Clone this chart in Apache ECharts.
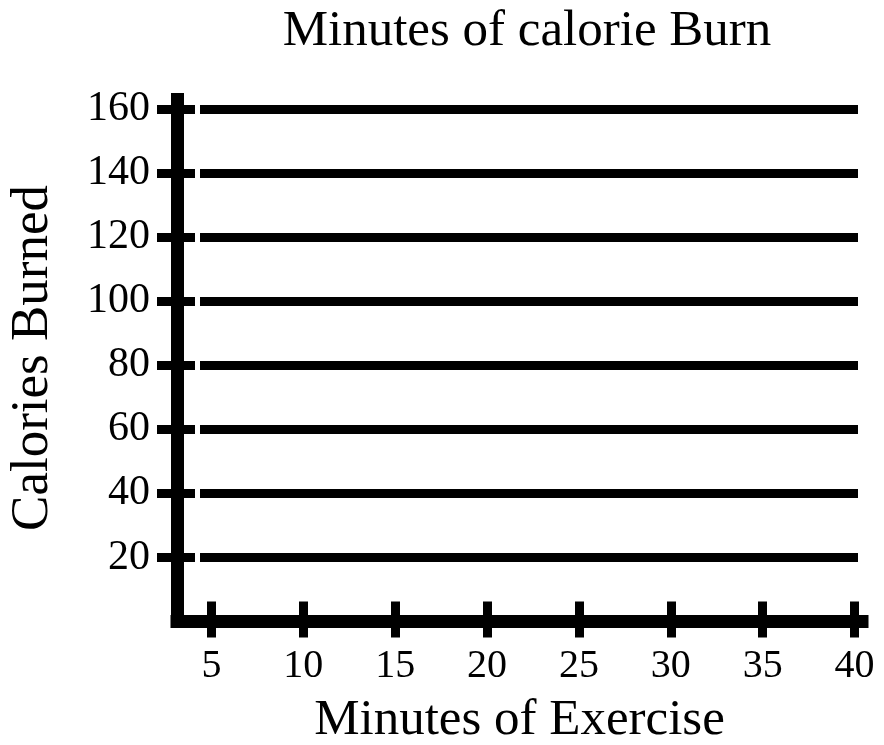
<!DOCTYPE html>
<html>
<head>
<meta charset="utf-8">
<script src="https://cdn.jsdelivr.net/npm/echarts@6/dist/echarts.min.js"></script>
<style>
html,body{margin:0;padding:0;background:#fff;}
#chart{width:884px;height:745px;}
</style>
</head>
<body>
<div id="chart"></div>
<script>
var titleText = 'Minutes of calorie Burn';
var xName = 'Minutes of Exercise';
var yName = 'Calories Burned';
var xTicks = [5, 10, 15, 20, 25, 30, 35, 40];
var yTicks = [20, 40, 60, 80, 100, 120, 140, 160];
var gridMin = 20, gridMax = 160, gridStep = 20;

var FONT = 'Liberation Serif';
var chart = echarts.init(document.getElementById('chart'), null, {renderer: 'canvas'});

var option = {
  backgroundColor: '#fff',
  animation: false,
  title: {
    text: titleText,
    left: 522,
    top: 1,
    textAlign: 'center',
    textStyle: {fontFamily: FONT, fontSize: 51, fontWeight: 'normal', color: '#000'}
  },
  grid: [
    {left: 177, right: 22, top: 93, bottom: 122, containLabel: false, outerBoundsMode: 'none'},
    {left: 200, right: 26, top: 109, bottom: 187.5, containLabel: false, outerBoundsMode: 'none'}
  ],
  xAxis: [
    {
      type: 'value', gridIndex: 0, min: 3.122, max: 40.408,
      position: 'bottom',
      name: xName, nameLocation: 'middle', nameGap: 72,
      nameTextStyle: {fontFamily: FONT, fontSize: 51, color: '#000'},
      axisLine: {show: true, lineStyle: {color: '#000', width: 13, cap: 'square'}},
      axisTick: {show: true, customValues: xTicks, length: 16, inside: false, lineStyle: {color: '#000', width: 9}},
      axisLabel: {show: true, customValues: xTicks, margin: 23, fontFamily: FONT, fontSize: 40, color: '#000'},
      splitLine: {show: false}
    },
    {
      type: 'value', gridIndex: 0, min: 3.122, max: 40.408,
      position: 'bottom',
      axisLine: {show: false},
      axisTick: {show: true, customValues: xTicks, length: 20, inside: true, lineStyle: {color: '#000', width: 9}},
      axisLabel: {show: false},
      splitLine: {show: false}
    },
    {
      type: 'value', gridIndex: 1, min: 0, max: 1, show: false
    }
  ],
  yAxis: [
    {
      type: 'value', gridIndex: 0, min: -0.446, max: 164.99,
      position: 'left',
      name: yName, nameLocation: 'middle', nameGap: 117, nameRotate: 90,
      nameTextStyle: {fontFamily: FONT, fontSize: 53, color: '#000'},
      axisLine: {show: true, lineStyle: {color: '#000', width: 13, cap: 'butt'}},
      axisTick: {show: true, customValues: yTicks, length: 20, inside: false, lineStyle: {color: '#000', width: 9}},
      axisLabel: {show: true, customValues: yTicks, margin: 27, fontFamily: FONT, fontSize: 42, color: '#000'},
      splitLine: {show: false}
    },
    {
      type: 'value', gridIndex: 0, min: -0.446, max: 164.99,
      position: 'left', offset: 0,
      axisLine: {show: false},
      axisTick: {show: true, customValues: yTicks, length: 18, inside: true, lineStyle: {color: '#000', width: 9}},
      axisLabel: {show: false},
      splitLine: {show: false}
    },
    {
      type: 'value', gridIndex: 1, min: gridMin, max: gridMax, interval: gridStep,
      axisLine: {show: false}, axisTick: {show: false}, axisLabel: {show: false},
      splitLine: {show: true, lineStyle: {color: '#000', width: 9, type: 'solid'}}
    }
  ],
  series: []
};
chart.setOption(option);
</script>
</body>
</html>
